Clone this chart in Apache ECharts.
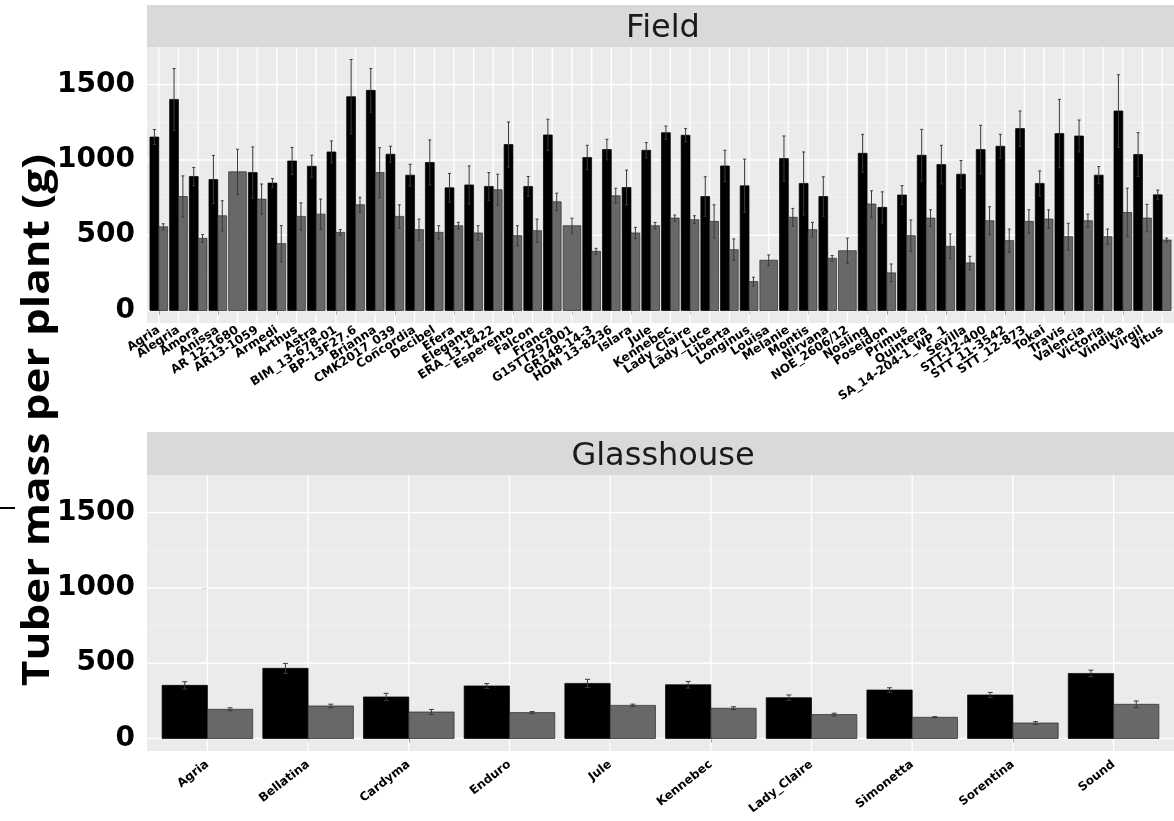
<!DOCTYPE html>
<html><head><meta charset="utf-8">
<script src="https://cdn.jsdelivr.net/npm/echarts@6/dist/echarts.min.js"></script>
<style>html,body{margin:0;padding:0;background:#fff}#c{width:1174px;height:821px}</style>
</head><body><div id="c"></div>
<script>
// ---------- DATA ----------
const fieldCats = ["Agria","Alegria","Amora","Anissa","AR 12-1680","AR13-1059","Armedi","Arthus","Astra","BIM_13-678-01","BP-13F27.6","Brianna","CMK2017_039","Concordia","Decibel","Efera","Elegante","ERA_13-1422","Esperento","Falcon","Franca","G15TT297001","GR148-14-3","HOM 13-8236","Islara","Jule","Kennebec","Lady_Claire","Lady_Luce","Liberta","Longinus","Louisa","Melanie","Montis","Nirvana","NOE_2606/12","Nosling","Poseidon","Primus","Quintera","SA_14-204-1_WP_1","Sevilla","STT-12-400","STT_11-3542","STT_12-873","Tokai","Travis","Valencia","Victoria","Vindika","Virgil","Vitus"];
const fieldBlack    = [1152,1402,890,870,null,916,846,993,958,1053,1420,1462,1038,899,983,815,834,824,1102,824,1166,null,1016,1069,817,1064,1181,1164,757,960,828,null,1009,844,757,null,1044,685,767,1031,969,905,1069,1091,1208,844,1175,1159,899,1325,1036,768];
const fieldBlackErr = [50,205,60,160,null,170,30,90,73,73,247,145,53,72,150,95,126,92,150,66,104,null,81,68,115,51,44,44,131,104,177,null,150,209,131,null,126,103,62,172,128,91,161,79,117,83,227,106,57,241,145,32];
const fieldGrey     = [556,757,479,629,921,740,444,625,640,519,702,916,625,537,519,563,515,802,497,530,722,563,393,762,515,563,614,603,592,404,192,334,619,537,347,397,707,250,497,614,426,316,596,464,592,607,490,596,490,651,614,468];
const fieldGreyErr  = [20,137,25,100,150,100,120,90,100,18,50,165,77,70,44,22,48,103,66,77,57,50,20,50,37,22,20,26,110,71,29,35,59,48,18,84,88,59,104,55,82,44,93,77,77,62,89,44,51,161,91,13];

const ghCats = ["Agria","Bellatina","Cardyma","Enduro","Jule","Kennebec","Lady_Claire","Simonetta","Sorentina","Sound"];
const ghBlack    = [353,466,276,349,366,357,271,322,289,432];
const ghBlackErr = [24,33,24,16,27,22,18,15,17,22];
const ghGrey     = [194,216,176,172,220,201,159,141,103,227];
const ghGreyErr  = [10,12,17,7,8,10,9,4,9,22];

const panelTitles = ["Field","Glasshouse"];
const yTitle = "Tuber mass per plant (g)";
const yTicks = [0,500,1000,1500];
const yMinor = [250,750,1250];
const yMin = -83, yMax = 1750;

// ---------- BUILD ----------
function rows(a, ae, b, be) {
  return b.map((v, i) => [i, a[i] == null ? NaN : a[i], ae[i] == null ? NaN : ae[i], v, be[i]]);
}
const idx = n => Array.from({length: n}, (_, i) => i);

function gridRenderer(nCats) {
  return function (params, api) {
    const cs = params.coordSys;
    const ch = [];
    yMinor.forEach(v => {
      const y = api.coord([0, v])[1];
      ch.push({type: 'line', shape: {x1: cs.x, y1: y, x2: cs.x + cs.width, y2: y}, style: {stroke: '#F5F5F5', lineWidth: 0.8}});
    });
    yTicks.forEach(v => {
      const y = api.coord([0, v])[1];
      ch.push({type: 'line', shape: {x1: cs.x, y1: y, x2: cs.x + cs.width, y2: y}, style: {stroke: '#FFFFFF', lineWidth: 1.4}});
    });
    for (let i = 0; i < nCats; i++) {
      const x = api.coord([i, 0])[0];
      ch.push({type: 'line', shape: {x1: x, y1: cs.y, x2: x, y2: cs.y + cs.height}, style: {stroke: '#FFFFFF', lineWidth: 1.4}});
    }
    return {type: 'group', children: ch};
  };
}

function barRenderer(capFrac) {
  return function (params, api) {
    const i = api.value(0);
    const a = api.value(1), ae = api.value(2), b = api.value(3), be = api.value(4);
    const unit = api.size([1, 0])[0];
    const cx = api.coord([i, 0])[0];
    const y0 = api.coord([i, 0])[1];
    const w = 0.45 * unit;
    const cap = capFrac * unit;
    const bars = [], errs = [];
    function bar(x0, width, v, fill, stroke) {
      const yt = api.coord([i, v])[1];
      bars.push({type: 'rect', shape: {x: x0, y: yt, width: width, height: y0 - yt},
        style: {fill: fill, stroke: stroke, lineWidth: 0.7}});
    }
    function err(xc, v, e) {
      if (isNaN(e)) return;
      const yl = api.coord([i, v - e])[1], yh = api.coord([i, v + e])[1];
      const st = {stroke: '#3a3a3a', lineWidth: 1};
      errs.push({type: 'line', shape: {x1: xc, y1: yl, x2: xc, y2: yh}, style: st});
      errs.push({type: 'line', shape: {x1: xc - cap / 2, y1: yh, x2: xc + cap / 2, y2: yh}, style: st});
      errs.push({type: 'line', shape: {x1: xc - cap / 2, y1: yl, x2: xc + cap / 2, y2: yl}, style: st});
    }
    if (!isNaN(a)) {
      bar(cx - w, w, a, '#000000', '#000000');
      bar(cx, w, b, '#686868', '#2a2a2a');
      err(cx - w / 2, a, ae);
      err(cx + w / 2, b, be);
    } else {
      bar(cx - w, 2 * w, b, '#686868', '#2a2a2a');
      err(cx, b, be);
    }
    return {type: 'group', children: bars.concat(errs)};
  };
}

const panelLeft = 147, panelWidth = 1032, panelHeight = 276;
const tops = [47, 475];
const stripTops = [5, 432];

function xAxisFor(gi, cats, fontSize, rotate, margin) {
  const ix = idx(cats.length);
  const lo = -0.6, hi = cats.length - 0.4;
  return {
    gridIndex: gi, type: 'value', min: lo, max: hi,
    axisLine: {show: false},
    axisTick: {show: true, customValues: ix, length: 4, lineStyle: {color: '#333333', width: 1}},
    // padding entries at the axis ends carry blank labels, so no real label is dropped
    axisLabel: {customValues: [lo].concat(ix, [hi]),
      formatter: v => (Math.abs(v - Math.round(v)) > 1e-6 ? ' ' : cats[Math.round(v)]),
      rotate: rotate, showMinLabel: false, showMaxLabel: false, hideOverlap: false,
      fontFamily: 'DejaVu Sans', fontWeight: 'bold', fontSize: fontSize, color: '#000', margin: margin},
    splitLine: {show: false}
  };
}
function yAxisFor(gi) {
  return {
    gridIndex: gi, type: 'value', min: yMin, max: yMax,
    axisLine: {show: false},
    axisTick: {show: true, customValues: yTicks, length: 5, lineStyle: {color: '#333333', width: 1}},
    axisLabel: {customValues: yTicks, formatter: v => String(v), showMinLabel: true, showMaxLabel: true,
      fontFamily: 'DejaVu Sans', fontWeight: 'bold', fontSize: 28, color: '#000', margin: 12},
    splitLine: {show: false}
  };
}

const chart = echarts.init(document.getElementById('c'));
const option = {
  animation: false,
  backgroundColor: '#ffffff',
  grid: tops.map(t => ({left: panelLeft, top: t, width: panelWidth, height: panelHeight,
    show: true, backgroundColor: '#EBEBEB', borderWidth: 0, containLabel: false})),
  xAxis: [xAxisFor(0, fieldCats, 12, 33, 6), xAxisFor(1, ghCats, 12, 38, 12)],
  yAxis: [yAxisFor(0), yAxisFor(1)],
  series: [
    {type: 'custom', xAxisIndex: 0, yAxisIndex: 0, data: [[0, 0]], encode: {x: 0, y: 1}, renderItem: gridRenderer(fieldCats.length), z: 1, silent: true},
    {type: 'custom', xAxisIndex: 1, yAxisIndex: 1, data: [[0, 0]], encode: {x: 0, y: 1}, renderItem: gridRenderer(ghCats.length), z: 1, silent: true},
    {type: 'custom', name: 'Field', xAxisIndex: 0, yAxisIndex: 0, data: rows(fieldBlack, fieldBlackErr, fieldGrey, fieldGreyErr), encode: {x: 0, y: 3}, renderItem: barRenderer(0.15), z: 3},
    {type: 'custom', name: 'Glasshouse', xAxisIndex: 1, yAxisIndex: 1, data: rows(ghBlack, ghBlackErr, ghGrey, ghGreyErr), encode: {x: 0, y: 3}, renderItem: barRenderer(0.05), z: 3}
  ],
  graphic: [
    ...stripTops.map((t, k) => ({type: 'rect', left: panelLeft, top: t, shape: {width: panelWidth, height: tops[k] - t}, style: {fill: '#D9D9D9'}, z: 0})),
    ...stripTops.map((t, k) => ({type: 'text', x: panelLeft + panelWidth / 2, y: (t + tops[k]) / 2 + 3,
      style: {text: panelTitles[k], fill: '#1A1A1A', font: '32px "DejaVu Sans"', align: 'center', verticalAlign: 'middle'}, z: 5})),
    {type: 'text', x: 38, y: 420, rotation: Math.PI / 2, scaleX: 1, scaleY: 0.86,
      style: {text: yTitle, fill: '#000', font: 'bold 44px "Open Sans"', align: 'center', verticalAlign: 'middle'}, z: 5},
    {type: 'line', shape: {x1: 0, y1: 508, x2: 15, y2: 508}, style: {stroke: '#000', lineWidth: 2}, z: 5}
  ]
};
chart.setOption(option);
</script>
</body></html>
